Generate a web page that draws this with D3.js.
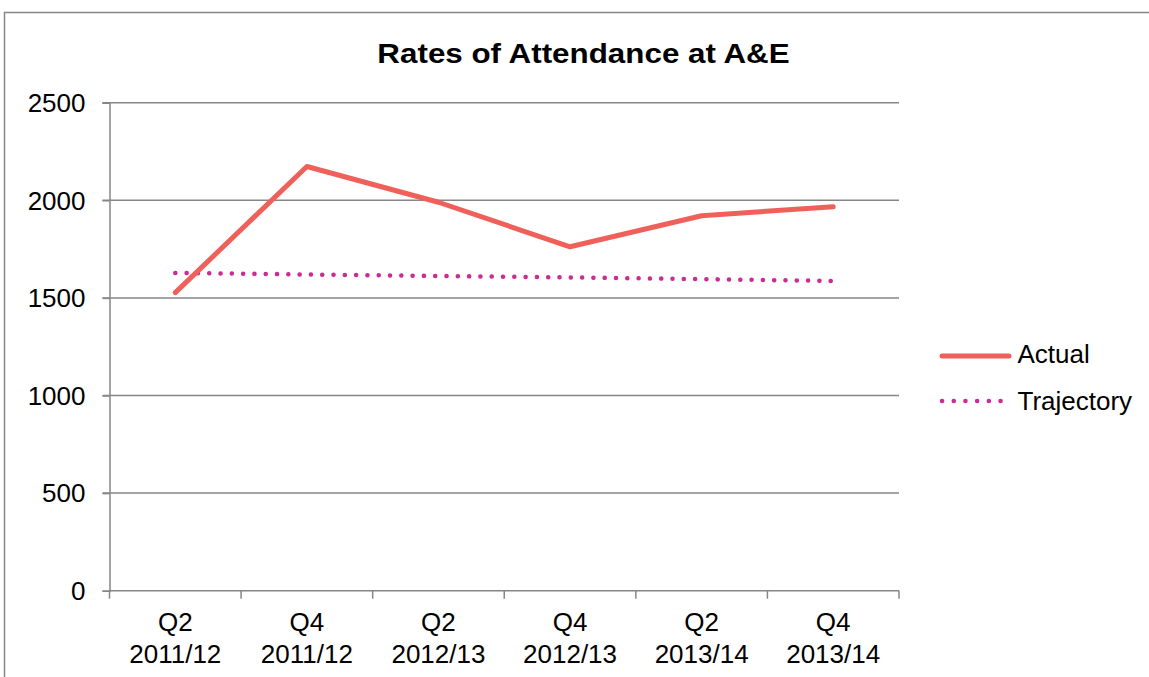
<!DOCTYPE html>
<html><head><meta charset="utf-8">
<script src="https://cdn.jsdelivr.net/npm/d3@7"></script>
<style>body{margin:0;background:#fff}svg{display:block}text{font-family:"Liberation Sans",Arial,sans-serif;fill:#000}</style>
</head><body>
<svg id="c" width="1149" height="677"></svg>
<script>
const categories = [["Q2","2011/12"],["Q4","2011/12"],["Q2","2012/13"],["Q4","2012/13"],["Q2","2013/14"],["Q4","2013/14"]];
const actual = [1527, 2173, 1990, 1762, 1921, 1967];
const trajectory = [1628, 1620, 1612, 1605, 1596, 1587];
const yTicks = [0, 500, 1000, 1500, 2000, 2500];
const seriesNames = ["Actual", "Trajectory"];

const svg = d3.select("#c");
svg.append("rect").attr("x",4.5).attr("y",12.5).attr("width",1200).attr("height",700)
  .attr("fill","none").attr("stroke","#868686").attr("stroke-width",1.5);

const L = 109.5, R = 899, T = 102.7, B = 590.7;
const x = d3.scaleBand().domain(d3.range(categories.length)).range([L, R]);
const y = d3.scaleLinear().domain([0, 2500]).range([B, T]);
const gray = "#868686";
const FS = 26;

// gridlines
svg.append("g").selectAll("line").data(yTicks.filter(d=>d>0)).join("line")
  .attr("x1", L-7).attr("x2", R).attr("y1", d=>y(d)).attr("y2", d=>y(d))
  .attr("stroke", gray).attr("stroke-width", 1.5);

// y axis
const ya = svg.append("g").attr("transform",`translate(${L},0)`)
  .call(d3.axisLeft(y).tickValues(yTicks).tickSize(7).tickPadding(17).tickFormat(d3.format("d")));
ya.select(".domain").attr("stroke", gray).attr("stroke-width", 1.5);
ya.selectAll(".tick line").attr("stroke", gray).attr("stroke-width", 1.5);
ya.selectAll("text").attr("font-size", FS).attr("font-family","Liberation Sans, Arial, sans-serif").attr("fill","#000").attr("dy","0.34em");

// x axis
const xa = svg.append("g").attr("transform",`translate(0,${B})`);
xa.append("line").attr("x1", L).attr("x2", R).attr("stroke", gray).attr("stroke-width", 1.5);
xa.selectAll("line.t").data(d3.range(categories.length+1)).join("line").attr("class","t")
  .attr("x1", i => L + i*x.step()).attr("x2", i => L + i*x.step()).attr("y1",0).attr("y2",8)
  .attr("stroke", gray).attr("stroke-width", 1.5);
const xl = xa.selectAll("text").data(categories).join("text")
  .attr("text-anchor","middle").attr("font-size", FS);
xl.append("tspan").attr("x",(d,i)=>x(i)+x.bandwidth()/2).attr("y",40).text(d=>d[0]);
xl.append("tspan").attr("x",(d,i)=>x(i)+x.bandwidth()/2).attr("y",72).text(d=>d[1]);

const cx = i => x(i) + x.bandwidth()/2;
const line = d3.line().x((d,i)=>cx(i)).y(d=>y(d));

svg.append("path").datum(trajectory).attr("d", line).attr("fill","none")
  .attr("stroke","#CC2A95").attr("stroke-width",4.5).attr("stroke-linecap","round")
  .attr("stroke-dasharray","0.1 11.2");
svg.append("path").datum(actual).attr("d", line).attr("fill","none")
  .attr("stroke","#F0605A").attr("stroke-width",5).attr("stroke-linecap","round").attr("stroke-linejoin","round");

// title
svg.append("text").attr("transform","translate(583.5,63.3) scale(1.12,1)").attr("text-anchor","middle")
  .attr("font-size", 28).attr("font-weight","bold").text("Rates of Attendance at A&E");

// legend
const lg = svg.append("g");
lg.append("line").attr("x1",942).attr("x2",1009).attr("y1",356).attr("y2",356)
  .attr("stroke","#F0605A").attr("stroke-width",5).attr("stroke-linecap","round");
lg.append("line").attr("x1",942).attr("x2",1001).attr("y1",401).attr("y2",401)
  .attr("stroke","#CC2A95").attr("stroke-width",4.5).attr("stroke-linecap","round").attr("stroke-dasharray","0.1 11.6");
lg.selectAll("text").data(seriesNames).join("text").attr("x",1017.5).attr("y",(d,i)=>362.5+i*47)
  .attr("font-size",FS).text(d=>d);
</script>
</body></html>
